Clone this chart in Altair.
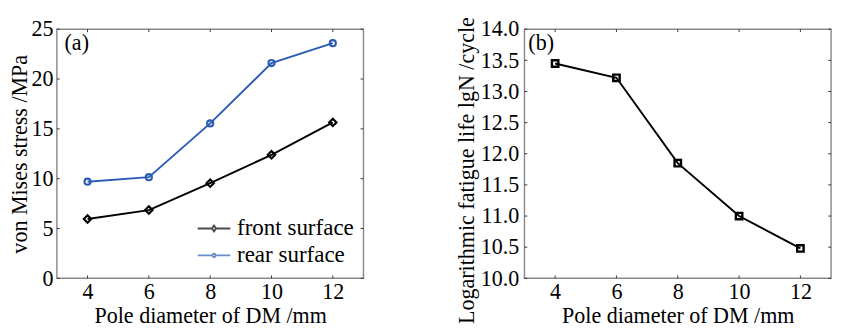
import altair as alt
import pandas as pd

# ---- data ----
diameters = [4, 6, 8, 10, 12]
front_stress = [5.95, 6.85, 9.55, 12.4, 15.65]
rear_stress = [9.7, 10.15, 15.55, 21.6, 23.6]
fatigue_life = [13.45, 13.22, 11.85, 11.0, 10.48]
series_names = ["front surface", "rear surface"]
x_ticks = [4, 6, 8, 10, 12]
ya_ticks = [0, 5, 10, 15, 20, 25]
yb_ticks = [10.0, 10.5, 11.0, 11.5, 12.0, 12.5, 13.0, 13.5, 14.0]

FONT = "Liberation Serif"
BLACK = "#000000"
BLUE = "#2b5cb5"
FRAME = "#8a8a8a"
W, H = 320, 260

df_a = pd.DataFrame({
    "d": diameters * 2,
    "stress": front_stress + rear_stress,
    "series": [series_names[0]] * 5 + [series_names[1]] * 5,
})
df_b = pd.DataFrame({"d": diameters, "life": fatigue_life})
xt = pd.DataFrame({"t": x_ticks})
yat = pd.DataFrame({"t": ya_ticks})
ybt = pd.DataFrame({"t": yb_ticks})

axis_common = dict(domain=False, ticks=False, grid=False, labelFont=FONT,
                   titleFont=FONT, labelFontSize=23, titleFontSize=23,
                   labelColor="black", titleColor="black", titleFontWeight="normal",
                   labelOverlap=False)

xscale = alt.Scale(domain=[3, 13], nice=False, zero=False)
xaxis = alt.Axis(values=x_ticks, title="Pole diameter of DM /mm", labelPadding=3,
                 titlePadding=2, **axis_common)

ya_scale = alt.Scale(domain=[0, 25], nice=False)
ya_axis = alt.Axis(values=ya_ticks, title="von Mises stress /MPa", labelPadding=4,
                   titlePadding=0, **axis_common)
yb_scale = alt.Scale(domain=[10, 14], nice=False, zero=False)
yb_axis = alt.Axis(values=yb_ticks, format=".1f", title="Logarithmic fatigue life lgN /cycle",
                   labelPadding=6, titlePadding=2, titleY=147, **axis_common)

def X(field):
    return alt.X(field, scale=xscale, axis=xaxis)

# legend symbols: line + marker
diamond_path = "M-1.7,0H-0.22L0,-0.3L0.22,0L0,0.3L-0.22,0M0.22,0H1.7"
circle_path = "M-1.7,0H-0.17A0.17,0.17 0 1,1 0.17,0A0.17,0.17 0 1,1 -0.17,0M0.17,0H1.7"


def tick_layers(xt_df, yt_df, Y):
    xb = alt.Chart(xt_df).mark_rule(color="#333", strokeWidth=1).encode(
        x=X("t:Q"), y=alt.value(H), y2=alt.value(H - 3))
    xtp = alt.Chart(xt_df).mark_rule(color="#333", strokeWidth=1).encode(
        x=X("t:Q"), y=alt.value(0), y2=alt.value(3))
    yl = alt.Chart(yt_df).mark_rule(color="#333", strokeWidth=1).encode(
        y=Y("t:Q"), x=alt.value(0), x2=alt.value(3))
    yr = alt.Chart(yt_df).mark_rule(color="#333", strokeWidth=1).encode(
        y=Y("t:Q"), x=alt.value(W), x2=alt.value(W - 3))
    return [xb, xtp, yl, yr]

# ---------- panel (a) ----------
def YA(field):
    return alt.Y(field, scale=ya_scale, axis=ya_axis)

base_a = alt.Chart(df_a)
front_line = base_a.transform_filter(alt.datum.series == series_names[0]).mark_line(
    color=BLACK, strokeWidth=2,
    point=alt.OverlayMarkDef(shape="diamond", size=60, filled=False, color=BLACK, strokeWidth=2.2),
).encode(x=X("d:Q"), y=YA("stress:Q"))
rear_line = base_a.transform_filter(alt.datum.series == series_names[1]).mark_line(
    color=BLUE, strokeWidth=2,
    point=alt.OverlayMarkDef(shape="circle", size=40, filled=False, color=BLUE, strokeWidth=2.2),
).encode(x=X("d:Q"), y=YA("stress:Q"))

legend_layer = base_a.transform_filter("false").mark_point(filled=False, strokeWidth=2).encode(
    x=X("d:Q"),
    y=YA("stress:Q"),
    color=alt.Color("series:N", scale=alt.Scale(domain=series_names, range=[BLACK, BLUE]),
                    legend=alt.Legend(orient="none", legendX=152, legendY=196, title=None,
                                      symbolSize=400, symbolStrokeWidth=2, labelOffset=12,
                                      labelFont=FONT, labelFontSize=24, labelColor="black",
                                      rowPadding=4, padding=0, symbolFillColor="white")),
    shape=alt.Shape("series:N", scale=alt.Scale(domain=series_names,
                                                range=[diamond_path, circle_path])),
)

label_a = alt.Chart(pd.DataFrame({"s": ["(a)"]})).mark_text(
    font=FONT, fontSize=23, align="left", baseline="middle", color="black"
).encode(x=alt.value(8), y=alt.value(15), text="s:N")

panel_a = alt.layer(front_line, rear_line, legend_layer, label_a,
                    *tick_layers(xt, yat, YA)).properties(width=W, height=H)

# ---------- panel (b) ----------
def YB(field):
    return alt.Y(field, scale=yb_scale, axis=yb_axis)

life_line = alt.Chart(df_b).mark_line(
    color=BLACK, strokeWidth=2,
    point=alt.OverlayMarkDef(shape="square", size=45, filled=False, color=BLACK, strokeWidth=2.5),
).encode(x=X("d:Q"), y=YB("life:Q"))
label_b = alt.Chart(pd.DataFrame({"s": ["(b)"]})).mark_text(
    font=FONT, fontSize=23, align="left", baseline="middle", color="black"
).encode(x=alt.value(4), y=alt.value(15), text="s:N")

panel_b = alt.layer(life_line, label_b, *tick_layers(xt, ybt, YB)).properties(width=W, height=H)

chart = alt.hconcat(panel_a, panel_b, spacing=93).resolve_scale(
    y="independent").configure_view(stroke=FRAME, strokeWidth=1.5).properties(
    padding=0, background="white")

chart.save("out.html", embed_options={"renderer": "svg", "actions": False})
